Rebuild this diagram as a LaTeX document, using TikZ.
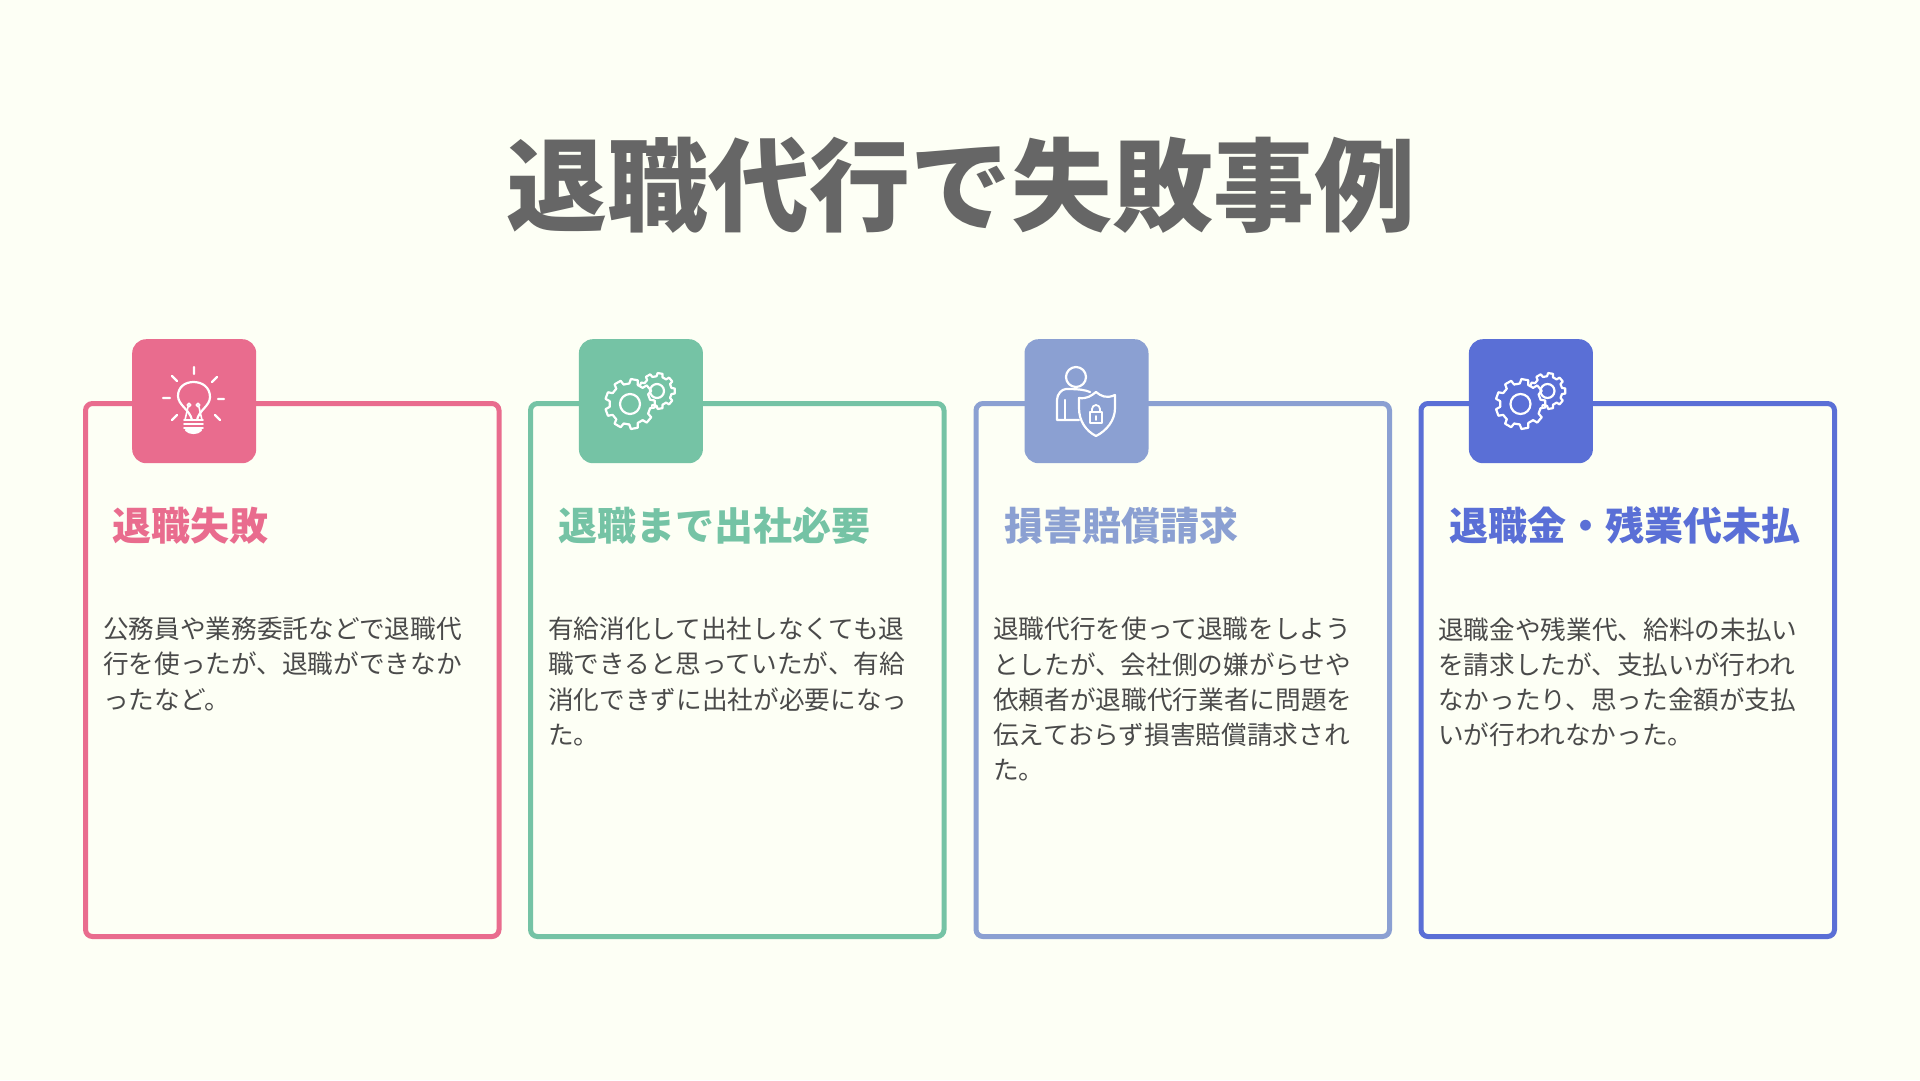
\documentclass[tikz,border=0pt]{standalone}
\usepackage{fontspec}
\usetikzlibrary{calc}
\newfontfamily\jp{Noto Sans CJK JP}
\definecolor{bgc}{HTML}{FDFFF5}
\definecolor{cpink}{HTML}{E96C8E}
\definecolor{cgreen}{HTML}{75C3A5}
\definecolor{cblue}{HTML}{8BA0D2}
\definecolor{cindigo}{HTML}{5A6FD6}
\definecolor{ctitle}{HTML}{666666}
\definecolor{cbody}{HTML}{4A4A4A}
\tikzset{
 card/.style={draw=#1,line width=5pt,rounded corners=7pt,fill=bgc,minimum width=413.5pt,minimum height=533pt,inner sep=0pt,outer sep=0pt,anchor=north west},
 tile/.style={fill=#1,rounded corners=14pt,minimum width=124pt,minimum height=124pt,inner sep=0pt,anchor=north west},
 headtxt/.style={text=#1,font=\jp\bfseries\fontsize{39pt}{46pt}\selectfont,anchor=west,inner sep=0pt},
 bodytxt/.style={text=cbody,font=\jp\fontsize{25.65pt}{35.2pt}\selectfont,anchor=north west,align=left,inner sep=0pt},
 ico/.style={draw=white,line width=2.2pt,fill=none,line cap=round,line join=round},
}
% gear: #1 centre x, #2 centre y, #3 outer radius, #4 teeth
\newcommand{\gearicon}[4]{%
 \pgfmathsetmacro{\gstep}{360/#4}%
 \pgfmathsetmacro{\rin}{#3*0.82}%
 \foreach \k in {1,...,#4}{%
  \pgfmathsetmacro{\aa}{\k*\gstep-0.30*\gstep}%
  \pgfmathsetmacro{\ab}{\k*\gstep-0.20*\gstep}%
  \pgfmathsetmacro{\ac}{\k*\gstep+0.20*\gstep}%
  \pgfmathsetmacro{\ad}{\k*\gstep+0.30*\gstep}%
  \pgfmathsetmacro{\ae}{\k*\gstep+0.70*\gstep}%
  \draw[ico] ($(#1,#2)+(\aa:\rin pt)$) -- ($(#1,#2)+(\ab:#3 pt)$) -- ($(#1,#2)+(\ac:#3 pt)$) -- ($(#1,#2)+(\ad:\rin pt)$) -- ($(#1,#2)+(\ae:\rin pt)$);
 }%
}
\begin{document}
\begin{tikzpicture}[x=1pt,y=-1pt]
\useasboundingbox (0,0) rectangle (1920,1080);
\fill[bgc] (0,0) rectangle (1920,1080);
\node[text=ctitle,font=\jp\bfseries\fontsize{101pt}{110pt}\selectfont,inner sep=0pt] (title) at (960.5,185) {退職代行で失敗事例};
% cards
\node[card=cpink]   (c1) at (85.5,403.5) {};
\node[card=cgreen]  (c2) at (530.5,403.5) {};
\node[card=cblue]   (c3) at (976,403.5) {};
\node[card=cindigo] (c4) at (1421,403.5) {};
% tiles
\node[tile=cpink]   (t1) at (132,339) {};
\node[tile=cgreen]  (t2) at (578.7,339) {};
\node[tile=cblue]   (t3) at (1024.3,339) {};
\node[tile=cindigo] (t4) at (1468.7,339) {};
% bulb
\draw[ico] (192,420) .. controls (190,410) and (178,405) .. (178,396) .. controls (178,387) and (185,382) .. (193.5,382) .. controls (202,382) and (210,387) .. (210,397) .. controls (210,406) and (199,410) .. (197,420);
\draw[ico,line width=1.6pt] (185,420) -- (188,407) (202,420) -- (199,407) (189,405) circle (1.8) (198,405) circle (1.8);
\draw[ico,line width=1.8pt] (184,420) -- (203,420) (184,424) -- (203,424) (184,428) -- (203,428);
\draw[ico,fill=white] (186,430) .. controls (189,434) and (198,434) .. (201,430) -- cycle;
\draw[ico] (194,367) -- (194,374) (172,376) -- (177,381) (217,377) -- (212,382) (163,398) -- (170,398) (218,399) -- (224,399) (172,420) -- (177,415) (215,415) -- (220,420);
% gears 2 and 4
\gearicon{657}{391}{18}{9}
\fill[cgreen] (630,404) circle (21);
\gearicon{630}{404}{25}{9}
\draw[ico] (630,404) circle (10);
\draw[ico] (657,391) circle (7);
\gearicon{1547.5}{391}{18}{9}
\fill[cindigo] (1520.5,404) circle (21);
\gearicon{1520.5}{404}{25}{9}
\draw[ico] (1520.5,404) circle (10);
\draw[ico] (1547.5,391) circle (7);
% person + shield
\draw[ico] (1076,377) circle (10);
\draw[ico] (1090,392) .. controls (1085,390) and (1080,389) .. (1066,389) .. controls (1062,389) and (1057,394) .. (1057,400) -- (1057,420) -- (1079,420);
\draw[ico] (1065,420) -- (1065,400);
\draw[ico] (1079,398) .. controls (1087,399) and (1091,396) .. (1096,392) .. controls (1101,396) and (1106,399) .. (1115,395) -- (1115,408) .. controls (1115,421) and (1106,431) .. (1096,436) .. controls (1086,431) and (1079,421) .. (1079,408) -- cycle;
\draw[ico,line width=1.8pt] (1090,412) rectangle (1102,423);
\draw[ico,line width=1.8pt] (1092,412) -- (1092,409) arc[start angle=180,end angle=360,radius=4] -- (1100,412);
\draw[ico,line width=1.8pt] (1096,416) -- (1096,420);
% headings
\node[headtxt=cpink]   (h1) at (112.5,525.5) {退職失敗};
\node[headtxt=cgreen]  (h2) at (558,525.5) {退職まで出社必要};
\node[headtxt=cblue]   (h3) at (1004,525.5) {損害賠償請求};
\node[headtxt=cindigo] (h4) at (1449,525.5) {退職金・残業代未払};
% bodies
\node[bodytxt] (b1) at (103,617) {公務員や業務委託などで退職代\\行を使ったが、退職ができなか\\ったなど。};
\node[bodytxt] (b2) at (548,617) {有給消化して出社しなくても退\\職できると思っていたが、有給\\消化できずに出社が必要になっ\\た。};
\node[bodytxt] (b3) at (993,617) {退職代行を使って退職をしよう\\としたが、会社側の嫌がらせや\\依頼者が退職代行業者に問題を\\伝えておらず損害賠償請求され\\た。};
\node[bodytxt] (b4) at (1438,617) {退職金や残業代、給料の未払い\\を請求したが、支払いが行われ\\なかったり、思った金額が支払\\いが行われなかった。};
\end{tikzpicture}
\end{document}
